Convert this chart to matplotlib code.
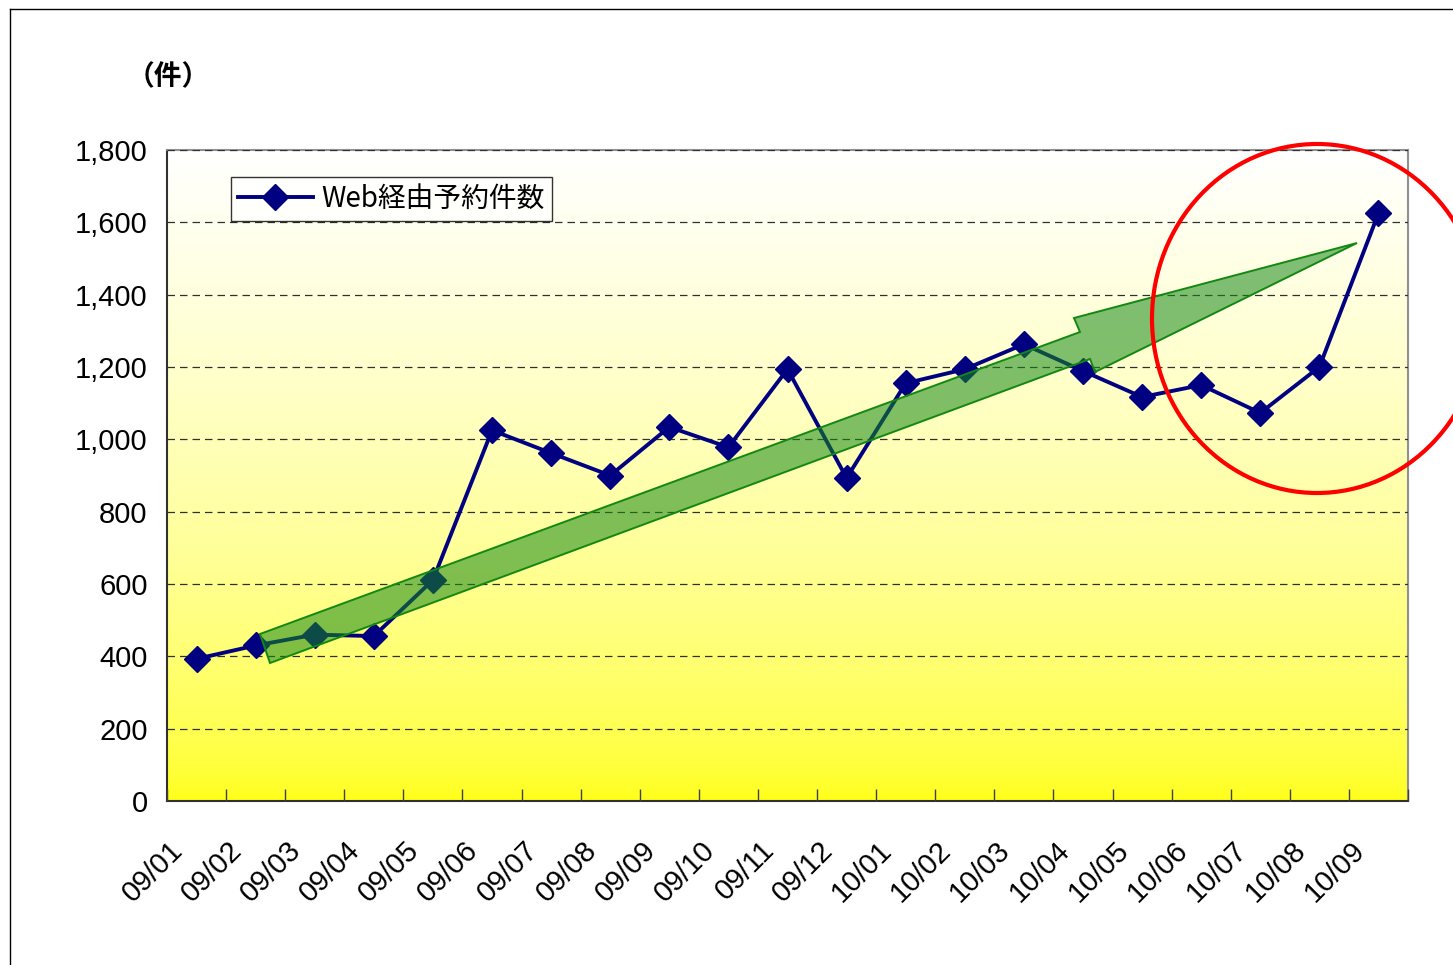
import numpy as np
import matplotlib
matplotlib.use("Agg")
import matplotlib.pyplot as plt
import matplotlib.transforms as mtransforms
from matplotlib.patches import Polygon, Ellipse
from matplotlib.lines import Line2D
from matplotlib.ticker import FuncFormatter, MultipleLocator

plt.rcParams['font.family'] = ['Liberation Sans', 'Noto Sans CJK JP']

# --- DATA ---
months = ['09/01', '09/02', '09/03', '09/04', '09/05', '09/06', '09/07',
          '09/08', '09/09', '09/10', '09/11', '09/12', '10/01', '10/02',
          '10/03', '10/04', '10/05', '10/06', '10/07', '10/08', '10/09']
web_bookings = [393, 430, 460, 456, 611, 1025, 962, 900, 1034, 978, 1194,
                893, 1155, 1194, 1263, 1189, 1117, 1150, 1073, 1200, 1625]
series_label = 'Web経由予約件数'
unit_label = '（件）'

W, H = 1453, 965
fig = plt.figure(figsize=(W / 100, H / 100), dpi=100)
ax_l, ax_r, ax_t, ax_b = 167, 1408, 150, 801
ax = fig.add_axes([ax_l / W, 1 - ax_b / H, (ax_r - ax_l) / W, (ax_b - ax_t) / H])

# gradient background (white top -> yellow bottom)
t = np.linspace(0, 1, 256)
blue = 0.08 + 0.92 * t ** 0.6
grad = np.ones((256, 1, 3))
grad[:, 0, 2] = blue[::-1]
ax.imshow(grad, extent=[0, 1, 0, 1], transform=ax.transAxes, aspect='auto',
          zorder=0, interpolation='bilinear')

x = np.arange(len(months))
ax.plot(x, web_bookings, color='#000080', lw=2.8, marker='D', ms=13,
        markeredgecolor='#000080', zorder=3)

ax.set_xlim(-0.5, len(months) - 0.5)
ax.set_ylim(0, 1800)
ax.yaxis.set_major_locator(MultipleLocator(200))
ax.yaxis.set_major_formatter(FuncFormatter(lambda v, p: f'{int(v):,}'))
ax.yaxis.grid(True, color='#303030', lw=0.9, ls=(0, (6, 4)), zorder=1)
ax.set_axisbelow(False)

ax.set_xticks(x)
ax.set_xticklabels(months, rotation=45, ha='right', va='top', fontsize=21)
ax.set_xticks(np.arange(len(months) + 1) - 0.5, minor=True)
ax.tick_params(axis='x', which='major', length=0, pad=25)
ax.tick_params(axis='x', which='minor', direction='in', length=9,
               color='#404040', width=1)
ax.tick_params(axis='y', direction='in', length=0, labelsize=21, pad=14)
offset = mtransforms.ScaledTranslation(-8 / 100, 0, fig.dpi_scale_trans)
for lab in ax.get_xticklabels():
    lab.set_transform(lab.get_transform() + offset)

for s in ['left', 'bottom']:
    ax.spines[s].set_color('#303030')
    ax.spines[s].set_linewidth(1.5)
for s in ['top', 'right']:
    ax.spines[s].set_color('#909090')
    ax.spines[s].set_linewidth(1.5)

# green trend arrow (pixel positions -> axes fraction)
arrow_px = [(260, 634), (1080, 332), (1074, 318), (1357, 243),
            (1095, 372), (1090, 359), (270, 663)]
arrow_ax = [((px - ax_l) / (ax_r - ax_l), (ax_b - py) / (ax_b - ax_t))
            for px, py in arrow_px]
ax.add_patch(Polygon(arrow_ax, closed=True, transform=ax.transAxes,
                     facecolor='#168a18', alpha=0.55, edgecolor='none', zorder=4))
ax.add_patch(Polygon(arrow_ax, closed=True, transform=ax.transAxes,
                     facecolor='none', edgecolor='#128812', lw=1.4, zorder=4))

# legend
handle = Line2D([], [], color='#000080', lw=2.8, marker='D', ms=13)
leg = ax.legend([handle], [series_label], loc='upper left',
                bbox_to_anchor=((231 - ax_l) / (ax_r - ax_l), (ax_b - 177) / (ax_b - ax_t)),
                prop={'family': ['Noto Sans CJK JP'], 'size': 20},
                frameon=True, fancybox=False, borderpad=0.25,
                handlelength=2.7, handletextpad=0.3, borderaxespad=0)
leg.get_frame().set_edgecolor('#000000')
leg.get_frame().set_linewidth(1.0)
leg.set_zorder(5)

# unit label
fig.text(168 / W, 1 - 77 / H, unit_label, ha='center', va='center', fontsize=20,
         fontweight='bold', family=['Noto Sans CJK JP'])

# red circle
fig.add_artist(Ellipse((1317 / W, 1 - 318.5 / H), 330 / W, 349 / H,
                       transform=fig.transFigure, fill=False,
                       edgecolor='#ff0000', lw=3.0, zorder=6))

# outer frame
fig.add_artist(Line2D([10 / W, 1], [1 - 9 / H, 1 - 9 / H], color='black', lw=1,
                      transform=fig.transFigure))
fig.add_artist(Line2D([10 / W, 10 / W], [0, 1 - 9 / H], color='black', lw=1,
                      transform=fig.transFigure))

fig.savefig('out.png', dpi=100)
